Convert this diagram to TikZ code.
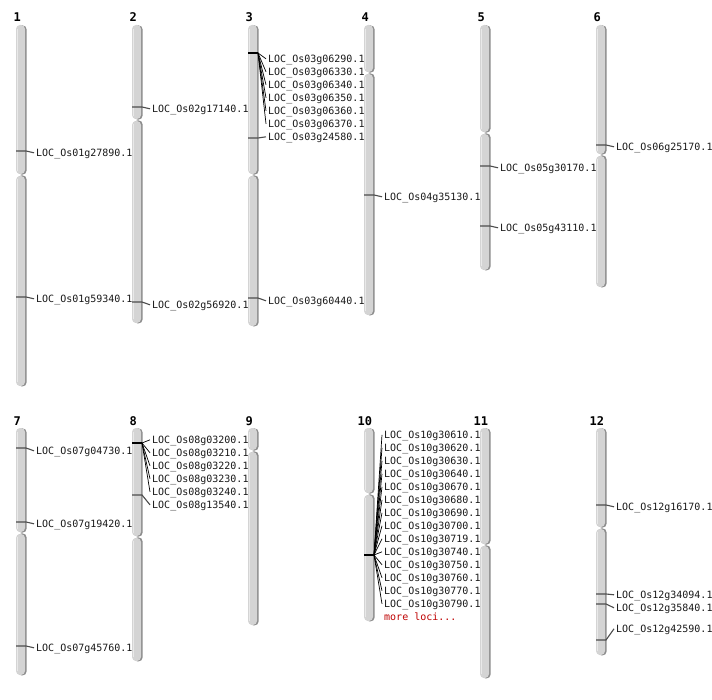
\documentclass[tikz,border=0pt]{standalone}
\usepackage{fontspec}
\setmonofont{DejaVu Sans Mono}
\begin{document}
\begin{tikzpicture}[x=1pt,y=-1pt,
  lbl/.style={font=\ttfamily\fontsize{10}{12}\selectfont, anchor=west, inner xsep=2pt, inner ysep=0pt, text height=7.3pt, text depth=0pt, text=black!90, yshift=-0.8pt},
  ttl/.style={font=\ttfamily\bfseries\fontsize{12}{14}\selectfont, anchor=base west, inner sep=0pt},
  mk/.style={draw=black!70, line width=1.1pt},
  fan/.style={draw=black, line width=0.7pt},
  cl/.style={draw=black, line width=2pt},
  more/.style={font=\ttfamily\fontsize{10}{12}\selectfont, anchor=west, inner xsep=2pt, inner ysep=0pt, text height=7.3pt, text depth=0pt, text=red!75!black, yshift=-0.8pt}]
\definecolor{chrbody}{HTML}{D4D4D4}
\definecolor{chrshadow}{HTML}{8C8C8C}
\useasboundingbox[fill=white] (0,0) rectangle (712,700);
\newcommand\chromo[4]{%
  \fill[chrshadow, rounded corners=4pt] (#1+1.6,#2+0.4) rectangle (#1+10.6,#3-0.4);
  \fill[chrshadow, rounded corners=4pt] (#1+1.6,#3+0.4) rectangle (#1+10.6,#4+0.4);
  \fill[chrbody, rounded corners=4pt] (#1,#2) rectangle (#1+9,#3-1);
  \fill[chrbody, rounded corners=4pt] (#1,#3+1) rectangle (#1+9,#4);
  \fill[white, opacity=0.5] (#1+1,#2+4) rectangle (#1+2,#3-4);
  \fill[white, opacity=0.5] (#1+1,#3+4) rectangle (#1+2,#4-4);
}
\newcommand\lc[1]{LOC\_Os#1.1}
\newcommand\locus[5]{%
  \coordinate (#1a) at (#2,#3);
  \coordinate (#1b) at (#2+10,#3);
  \node[lbl] (#1) at (#2+18,#4) {\lc{#5}};
  \draw[mk] (#1a) -- (#1b) -- (#1.west);
}
\newcommand\member[5]{%
  \node[lbl] (#1) at (#2+18,#4) {\lc{#5}};
  \draw[fan] (#3) -- (#1.west);
}
% chromosomes
\chromo{16}{25}{175}{386}
\chromo{132}{25}{120}{323}
\chromo{248}{25}{175}{326}
\chromo{364}{25}{73}{315}
\chromo{480}{25}{133}{270}
\chromo{596}{25}{155}{287}
\chromo{16}{428}{533}{675}
\chromo{132}{428}{537}{661}
\chromo{248}{428}{451}{625}
\chromo{364}{428}{494}{621}
\chromo{480}{428}{545}{678}
\chromo{596}{428}{528}{655}
% titles
\node[ttl] (t1) at (13.5,22) {1};
\node[ttl] (t2) at (129.5,22) {2};
\node[ttl] (t3) at (245.5,22) {3};
\node[ttl] (t4) at (361.5,22) {4};
\node[ttl] (t5) at (477.5,22) {5};
\node[ttl] (t6) at (593.5,22) {6};
\node[ttl] (t7) at (13.5,425) {7};
\node[ttl] (t8) at (129.5,425) {8};
\node[ttl] (t9) at (245.5,425) {9};
\node[ttl] (t10) at (357.5,425) {10};
\node[ttl] (t11) at (473.5,425) {11};
\node[ttl] (t12) at (589.5,425) {12};
% chr1
\locus{la}{16}{151}{152}{01g27890}
\locus{lb}{16}{297}{298}{01g59340}
% chr2
\locus{lc}{132}{107}{108}{02g17140}
\locus{ld}{132}{302}{304}{02g56920}
% chr3 cluster
\coordinate (c3a) at (248,53);
\coordinate (c3b) at (258,53);
\draw[cl] (c3a) -- (c3b);
\member{m31}{248}{c3b}{58}{03g06290}
\member{m32}{248}{c3b}{71}{03g06330}
\member{m33}{248}{c3b}{84}{03g06340}
\member{m34}{248}{c3b}{97}{03g06350}
\member{m35}{248}{c3b}{110}{03g06360}
\member{m36}{248}{c3b}{123}{03g06370}
\locus{le}{248}{138}{136}{03g24580}
\locus{lf}{248}{298}{300}{03g60440}
% chr4
\locus{lg}{364}{195}{196}{04g35130}
% chr5
\locus{lh}{480}{166}{167}{05g30170}
\locus{li}{480}{226}{227}{05g43110}
% chr6
\locus{lj}{596}{145}{146}{06g25170}
% chr7
\locus{lk}{16}{448}{450}{07g04730}
\locus{ll}{16}{522}{523}{07g19420}
\locus{lm}{16}{646}{647}{07g45760}
% chr8 cluster
\coordinate (c8a) at (132,443);
\coordinate (c8b) at (142,443);
\draw[cl] (c8a) -- (c8b);
\member{m81}{132}{c8b}{439}{08g03200}
\member{m82}{132}{c8b}{452}{08g03210}
\member{m83}{132}{c8b}{465}{08g03220}
\member{m84}{132}{c8b}{478}{08g03230}
\member{m85}{132}{c8b}{491}{08g03240}
\locus{ln}{132}{495}{504}{08g13540}
% chr10 cluster
\coordinate (c10a) at (364,555);
\coordinate (c10b) at (374,555);
\draw[cl] (c10a) -- (c10b);
\member{p1}{364}{c10b}{434}{10g30610}
\member{p2}{364}{c10b}{447}{10g30620}
\member{p3}{364}{c10b}{460}{10g30630}
\member{p4}{364}{c10b}{473}{10g30640}
\member{p5}{364}{c10b}{486}{10g30670}
\member{p6}{364}{c10b}{499}{10g30680}
\member{p7}{364}{c10b}{512}{10g30690}
\member{p8}{364}{c10b}{525}{10g30700}
\member{p9}{364}{c10b}{538}{10g30719}
\member{p10}{364}{c10b}{551}{10g30740}
\member{p11}{364}{c10b}{564}{10g30750}
\member{p12}{364}{c10b}{577}{10g30760}
\member{p13}{364}{c10b}{590}{10g30770}
\member{p14}{364}{c10b}{603}{10g30790}
\node[more] (moreloci) at (382,616) {more loci...};
% chr12
\locus{lo}{596}{505}{506}{12g16170}
\locus{lp}{596}{594}{594}{12g34094}
\locus{lq}{596}{604}{607}{12g35840}
\locus{lr}{596}{640}{628}{12g42590}
\end{tikzpicture}
\end{document}
